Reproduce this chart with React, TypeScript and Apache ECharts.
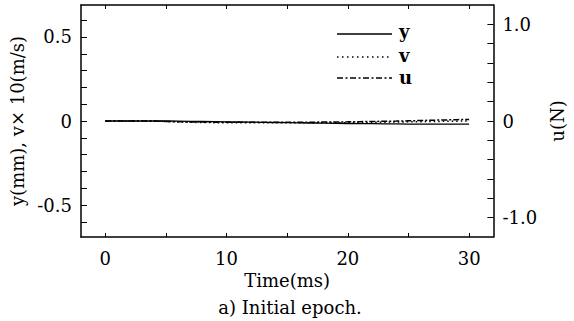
import React, { useEffect, useRef } from "react";
import * as echarts from "echarts";

const time = [0, 1, 2, 3, 4, 5, 6, 7, 8, 9, 10, 11, 12, 13, 14, 15, 16, 17, 18, 19, 20, 21, 22, 23, 24, 25, 26, 27, 28, 29, 30];
// y (mm)
const ySeries = [0, 0, 0, 0, 0, 0, -0.001, -0.002, -0.003, -0.004, -0.005, -0.006, -0.007, -0.008, -0.009, -0.010, -0.011, -0.012, -0.013, -0.014, -0.015, -0.016, -0.016, -0.017, -0.017, -0.018, -0.018, -0.018, -0.018, -0.018, -0.018];
// v x 10 (m/s)
const vSeries = [0, 0, 0, 0, 0, -0.003, -0.006, -0.008, -0.009, -0.010, -0.010, -0.011, -0.011, -0.011, -0.011, -0.011, -0.011, -0.011, -0.010, -0.010, -0.010, -0.009, -0.008, -0.007, -0.006, -0.005, -0.004, -0.003, -0.002, -0.001, 0];
// u (N)
const uSeries = [0, 0, 0, 0, 0, -0.004, -0.008, -0.010, -0.011, -0.012, -0.012, -0.012, -0.012, -0.012, -0.012, -0.012, -0.012, -0.012, -0.011, -0.010, -0.009, -0.007, -0.005, -0.003, -0.001, 0.002, 0.005, 0.008, 0.011, 0.014, 0.016];

const xTicks = [0, 5, 10, 15, 20, 25, 30];
const xLabels = [0, 10, 20, 30];
const leftTicks = [-0.6, -0.5, -0.4, -0.3, -0.2, -0.1, 0, 0.1, 0.2, 0.3, 0.4, 0.5, 0.6];
const leftLabels = [-0.5, 0, 0.5];
const rightTicks = [-1.0, -0.8, -0.6, -0.4, -0.2, 0, 0.2, 0.4, 0.6, 0.8, 1.0];
const rightLabels = [-1.0, 0, 1.0];

const legendNames = ["y", "v", "u"];

const FONT = "DejaVu Serif";

export default function App() {
  const ref = useRef<HTMLDivElement>(null);
  useEffect(() => {
    if (!ref.current) return;
    const chart = echarts.init(ref.current, undefined, { renderer: "svg" });
    const axisLine = { show: true, onZero: false, lineStyle: { color: "#000", width: 1.5 } };
    const text = { color: "#000", fontFamily: FONT, fontSize: 18 };
    const pairs = (arr: number[]) => time.map((t, i) => [t, arr[i]]);
    chart.setOption({
      animation: false,
      backgroundColor: "#fff",
      grid: { left: 81, right: 60, top: 5, bottom: 84 },
      xAxis: [
        {
          type: "value",
          position: "bottom",
          min: -2,
          max: 32,
          axisLine,
          splitLine: { show: false },
          axisTick: { inside: true, length: 4, customValues: xTicks, lineStyle: { color: "#000", width: 1 } },
          axisLabel: { ...text, customValues: xLabels, margin: 12 },
          name: "Time(ms)",
          nameLocation: "middle",
          nameGap: 33,
          nameTextStyle: text,
        },
        {
          type: "value",
          position: "top",
          min: -2,
          max: 32,
          axisLine,
          splitLine: { show: false },
          axisTick: { inside: true, length: 4, customValues: xTicks, lineStyle: { color: "#000", width: 1 } },
          axisLabel: { show: false },
        },
      ],
      yAxis: [
        {
          type: "value",
          position: "left",
          min: -0.69,
          max: 0.69,
          axisLine,
          splitLine: { show: false },
          axisTick: { inside: true, length: 6, customValues: leftTicks, lineStyle: { color: "#000", width: 1 } },
          axisLabel: {
            ...text,
            customValues: leftLabels,
            margin: 9,
            formatter: (v: number) => (Math.abs(v) < 1e-9 ? "0" : String(v)),
          },
          name: "y(mm), v\u00d7 10(m/s)",
          nameLocation: "middle",
          nameGap: 44,
          nameRotate: 90,
          nameTextStyle: text,
        },
        {
          type: "value",
          position: "right",
          min: -1.2,
          max: 1.2,
          axisLine,
          splitLine: { show: false },
          axisTick: { inside: true, length: 6, customValues: rightTicks, lineStyle: { color: "#000", width: 1 } },
          axisLabel: {
            ...text,
            customValues: rightLabels,
            margin: 9,
            formatter: (v: number) => (Math.abs(v) < 1e-9 ? "0" : v.toFixed(1)),
          },
          name: "u(N)",
          nameLocation: "middle",
          nameGap: 37,
          nameRotate: 90,
          nameTextStyle: text,
        },
      ],
      series: [
        {
          name: legendNames[0],
          type: "line",
          xAxisIndex: 0,
          yAxisIndex: 0,
          data: pairs(ySeries),
          showSymbol: false,
          lineStyle: { color: "#000", width: 1.3, type: "solid" },
        },
        {
          name: legendNames[1],
          type: "line",
          xAxisIndex: 0,
          yAxisIndex: 0,
          data: pairs(vSeries),
          showSymbol: false,
          lineStyle: { color: "#000", width: 1.5, type: [1.5, 3] },
        },
        {
          name: legendNames[2],
          type: "line",
          xAxisIndex: 0,
          yAxisIndex: 1,
          data: pairs(uSeries),
          showSymbol: false,
          lineStyle: { color: "#000", width: 1.5, type: [6, 2, 2, 2] },
        },
      ],
      graphic: [
        { type: "line", shape: { x1: 337, y1: 34, x2: 392, y2: 34 }, style: { stroke: "#000", lineWidth: 1.3 } },
        { type: "line", shape: { x1: 337, y1: 57, x2: 392, y2: 57 }, style: { stroke: "#000", lineWidth: 1.5, lineDash: [1.5, 3.5] } },
        { type: "line", shape: { x1: 337, y1: 78, x2: 392, y2: 78 }, style: { stroke: "#000", lineWidth: 1.5, lineDash: [6, 2.5, 2, 2.5] } },
        { type: "text", x: 399, y: 31, style: { text: legendNames[0], font: `bold 18px '${FONT}'`, fill: "#000", verticalAlign: "middle" } },
        { type: "text", x: 399, y: 55, style: { text: legendNames[1], font: `bold 18px '${FONT}'`, fill: "#000", verticalAlign: "middle" } },
        { type: "text", x: 399, y: 77, style: { text: legendNames[2], font: `bold 18px '${FONT}'`, fill: "#000", verticalAlign: "middle" } },
        { type: "text", x: 290, y: 307, style: { text: "a) Initial epoch.", font: `18px '${FONT}'`, fill: "#000", align: "center", verticalAlign: "middle" } },
      ],
    });
    return () => chart.dispose();
  }, []);
  return <div ref={ref} style={{ position: "fixed", left: 0, top: 0, width: 574, height: 321, background: "#fff" }} />;
}
